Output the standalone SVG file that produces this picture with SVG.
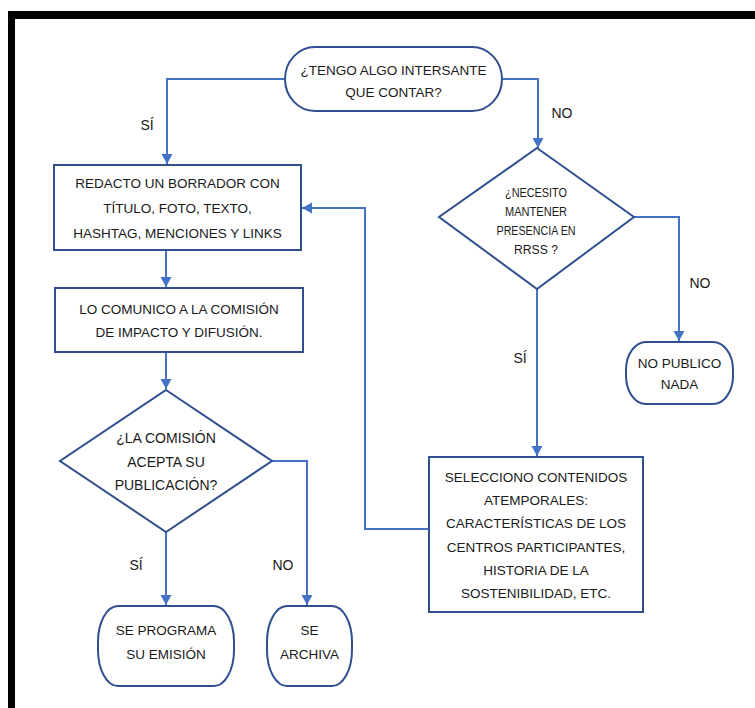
<svg xmlns="http://www.w3.org/2000/svg" width="755" height="708" viewBox="0 0 755 708">
<defs>
<marker id="arr" markerUnits="userSpaceOnUse" markerWidth="12" markerHeight="12" refX="10" refY="6" orient="auto">
<path d="M0,0.5 L10,6 L0,11.5 Z" fill="#4472C4"/>
</marker>
<style>
.sh{fill:#fff;stroke:#2F4F8F;stroke-width:2}
.t{font-family:"Liberation Sans",Arial,sans-serif;font-size:13.5px;fill:#1a1a1a;text-anchor:middle}
.s{font-size:12.5px}
.b{font-size:14px}
.c{fill:none;stroke:#4472C4;stroke-width:2;marker-end:url(#arr)}
.lb{font-family:"Liberation Sans",Arial,sans-serif;font-size:14px;fill:#1a1a1a;text-anchor:middle}
</style>
</defs>
<rect x="0" y="0" width="755" height="708" fill="#fff"/>
<g id="frame">
<rect x="8" y="11" width="747" height="8" fill="#000"/>
<rect x="8" y="11" width="7" height="697" fill="#000"/>
</g>
<g id="connectors">
<path class="c" d="M285,79 H167 V164"/>
<path class="c" d="M502,79 H538 V148"/>
<path class="c" d="M166,250 V287"/>
<path class="c" d="M166,352 V389"/>
<path class="c" d="M634,217 H679 V341"/>
<path class="c" d="M537,289 V456"/>
<path class="c" d="M429,529 H365 V208 H302"/>
<path class="c" d="M166,532 V605"/>
<path class="c" d="M272,461 H307 V605"/>
</g>
<g id="labels">
<text class="lb" x="147" y="130">SÍ</text>
<text class="lb" x="562" y="118">NO</text>
<text class="lb" x="700" y="288">NO</text>
<text class="lb" x="520" y="363">SÍ</text>
<text class="lb" x="136" y="570">SÍ</text>
<text class="lb" x="283" y="570">NO</text>
</g>
<g id="start">
<rect class="sh" x="285" y="47" width="217" height="64" rx="30" ry="32"/>
<text class="t" x="393.5" y="75">¿TENGO ALGO INTERSANTE</text>
<text class="t" x="393.5" y="97">QUE CONTAR?</text>
</g>
<g id="draft">
<rect class="sh" x="54" y="165" width="247" height="85"/>
<text class="t" x="177.5" y="188">REDACTO UN BORRADOR CON</text>
<text class="t" x="177.5" y="213">TÍTULO, FOTO, TEXTO,</text>
<text class="t" x="177.5" y="238">HASHTAG, MENCIONES Y LINKS</text>
</g>
<g id="communicate">
<rect class="sh" x="55" y="288" width="248" height="64"/>
<text class="t" x="179" y="314">LO COMUNICO A LA COMISIÓN</text>
<text class="t" x="179" y="337">DE IMPACTO Y DIFUSIÓN.</text>
</g>
<g id="accept">
<polygon class="sh" points="166,390 272,461 166,532 60,461"/>
<text class="t b" x="166" y="443">¿LA COMISIÓN</text>
<text class="t b" x="166" y="467">ACEPTA SU</text>
<text class="t b" x="166" y="490">PUBLICACIÓN?</text>
</g>
<g id="presence">
<polygon class="sh" points="537,148 634,217 537,289 439,217"/>
<text class="t s" x="536" y="197" textLength="62" lengthAdjust="spacingAndGlyphs">¿NECESITO</text>
<text class="t s" x="536" y="216" textLength="62" lengthAdjust="spacingAndGlyphs">MANTENER</text>
<text class="t s" x="536" y="235" textLength="79" lengthAdjust="spacingAndGlyphs">PRESENCIA EN</text>
<text class="t s" x="536" y="254" textLength="44" lengthAdjust="spacingAndGlyphs">RRSS ?</text>
</g>
<g id="nothing">
<rect class="sh" x="626" y="342" width="107" height="62" rx="20" ry="28"/>
<text class="t" x="679.5" y="368">NO PUBLICO</text>
<text class="t" x="679.5" y="389">NADA</text>
</g>
<g id="atemporal">
<rect class="sh" x="429" y="457" width="214" height="155"/>
<text class="t" x="536" y="482">SELECCIONO CONTENIDOS</text>
<text class="t" x="536" y="505">ATEMPORALES:</text>
<text class="t" x="536" y="528">CARACTERÍSTICAS DE LOS</text>
<text class="t" x="536" y="552">CENTROS PARTICIPANTES,</text>
<text class="t" x="536" y="575">HISTORIA DE LA</text>
<text class="t" x="536" y="598">SOSTENIBILIDAD, ETC.</text>
</g>
<g id="program">
<rect class="sh" x="98" y="606" width="136" height="80" rx="20" ry="36"/>
<text class="t" x="166" y="635">SE PROGRAMA</text>
<text class="t" x="166" y="659">SU EMISIÓN</text>
</g>
<g id="archive">
<rect class="sh" x="267" y="606" width="85" height="80" rx="20" ry="36"/>
<text class="t" x="309.5" y="635">SE</text>
<text class="t" x="309.5" y="659">ARCHIVA</text>
</g>
</svg>
